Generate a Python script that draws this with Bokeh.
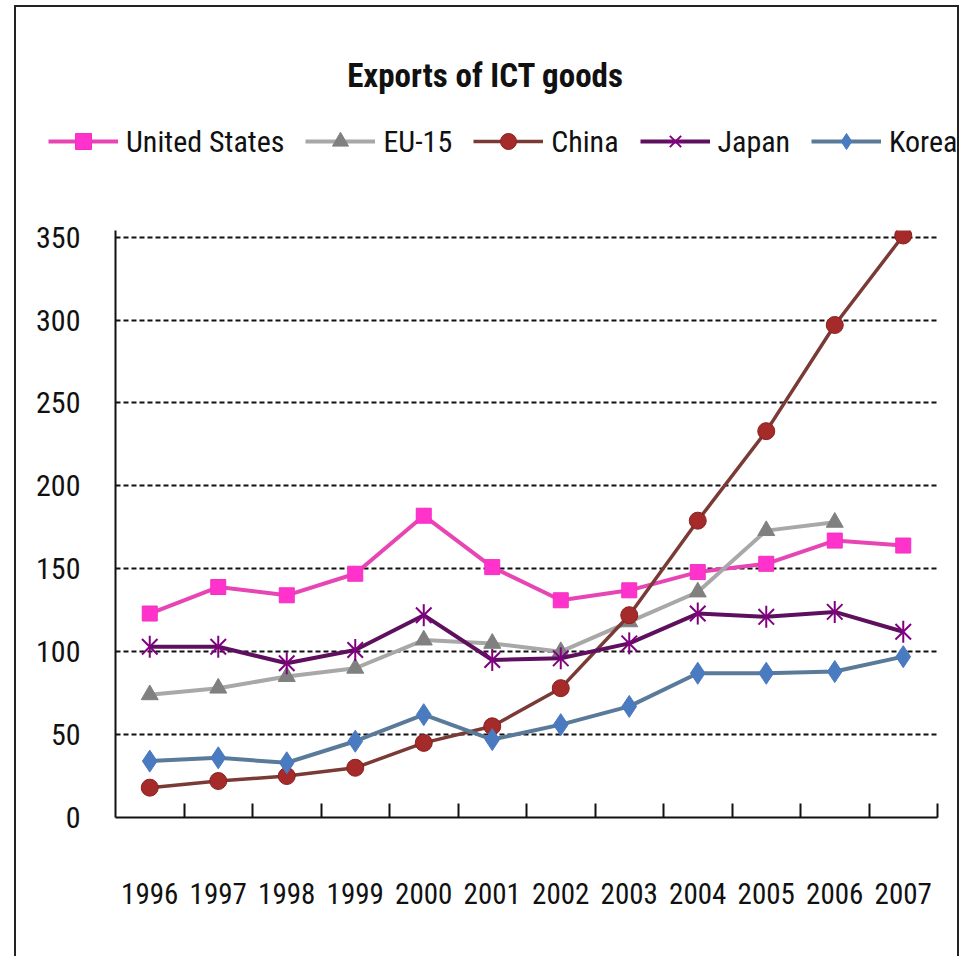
import math
from bokeh.plotting import figure
from bokeh.models import Range1d, FixedTicker, Legend, LegendItem, Label
from bokeh.embed import file_html
from bokeh.resources import INLINE

# ---- data ----
years = [1996, 1997, 1998, 1999, 2000, 2001, 2002, 2003, 2004, 2005, 2006, 2007]
us = [123, 139, 134, 147, 182, 151, 131, 137, 148, 153, 167, 164]
eu15_years = [1996, 1997, 1998, 1999, 2000, 2001, 2002, 2003, 2004, 2005, 2006]
eu15 = [74, 78, 85, 90, 107, 105, 100, 118, 136, 173, 178]
china = [18, 22, 25, 30, 45, 55, 78, 122, 179, 233, 297, 351]
japan = [103, 103, 93, 101, 122, 95, 96, 105, 123, 121, 124, 112]
korea = [34, 36, 33, 46, 62, 47, 56, 67, 87, 87, 88, 97]
series_names = ["United States", "EU-15", "China", "Japan", "Korea"]
y_ticks = [0, 50, 100, 150, 200, 250, 300, 350]
title_text = "Exports of ICT goods"

FONT = "Roboto Condensed, DejaVu Sans Condensed, sans-serif"
BORDER = "2px solid #222"

styles = [
    dict(line_color="#E845B4", line_width=4, marker="square", size=15, fill_color="#FF33CC", mline="#F030C0", mlw=1),
    dict(line_color="#A8A8A8", line_width=4, marker="triangle", size=17, fill_color="#808080", mline="#808080", mlw=1),
    dict(line_color="#7A3A36", line_width=3.5, marker="circle", size=17, fill_color="#A52A2A", mline="#8B2020", mlw=1),
    dict(line_color="#5E105E", line_width=4, marker="x", size=22, fill_color=None, mline="#800080", mlw=2),
    dict(line_color="#5A7A9A", line_width=4, marker="diamond", size=22, fill_color="#4A7AC0", mline="#4A7AC0", mlw=1),
]
data = [(years, us), (eu15_years, eu15), (years, china), (years, japan), (years, korea)]


def draw_series(fig, xs, ys, st):
    rs = [fig.line(xs, ys, line_color=st["line_color"], line_width=st["line_width"])]
    rs.append(fig.scatter(xs, ys, marker=st["marker"], size=st["size"],
                          fill_color=st["fill_color"], line_color=st["mline"],
                          line_width=st["mlw"]))
    if st["marker"] == "x":  # vertical bar completes the Excel-style star
        rs.append(fig.scatter(xs, ys, marker="dash", angle=math.pi / 2, size=st["size"],
                              line_color=st["mline"], line_width=st["mlw"]))
    return rs


# ---------------- header (title + legend) ----------------
h = figure(width=945, height=200, x_range=Range1d(0, 1), y_range=Range1d(0, 1),
           output_backend="svg", toolbar_location=None,
           x_axis_location=None, y_axis_location=None,
           min_border=0, min_border_left=0, min_border_right=0,
           min_border_top=0, min_border_bottom=0)
h.outline_line_color = None
h.xgrid.visible = False
h.ygrid.visible = False
h.margin = (5, 0, 0, 14)
h.styles = {"border-top": BORDER, "border-left": BORDER, "border-right": BORDER}

items = []
for name, (xs, ys), st in zip(series_names, data, styles):
    # same series, outside the header's view: only their legend glyphs show
    items.append(LegendItem(label=name, renderers=draw_series(h, xs, ys, st)))
legend = Legend(items=items, orientation="horizontal", location=(32, 46),
                padding=0, margin=0, spacing=21, glyph_width=70, glyph_height=40,
                label_standoff=8, label_text_font=FONT, label_text_font_size="30px",
                label_text_color="#111", border_line_color=None, background_fill_alpha=0)
h.add_layout(legend)
h.add_layout(Label(x=469, y=132, x_units="screen", y_units="screen", text=title_text,
                   text_align="center", text_baseline="alphabetic", text_font=FONT,
                   text_font_style="bold", text_font_size="33px", text_color="#111"))

# ---------------- main plot ----------------
p = figure(width=945, height=751,
           x_range=Range1d(years[0] - 0.5, years[-1] + 0.5),
           y_range=Range1d(0, 354),
           output_backend="svg", toolbar_location=None,
           min_border_left=99, min_border_right=24,
           min_border_top=25, min_border_bottom=139)
p.outline_line_color = None
p.margin = (0, 0, 0, 14)
p.styles = {"border-left": BORDER, "border-right": BORDER}

xa = p.xaxis[0]
xa.ticker = FixedTicker(ticks=years, minor_ticks=[y + 0.5 for y in years])
xa.major_tick_in = 0
xa.major_tick_out = 0
xa.minor_tick_in = 14
xa.minor_tick_out = 0
xa.minor_tick_line_width = 2
xa.minor_tick_line_color = "#111"
xa.axis_line_width = 2
xa.axis_line_color = "#111"
xa.major_label_standoff = 65
xa.major_label_text_font = FONT
xa.major_label_text_font_size = "29px"
xa.major_label_text_color = "#111"

ya = p.yaxis[0]
ya.ticker = FixedTicker(ticks=y_ticks)
ya.major_tick_in = 0
ya.major_tick_out = 0
ya.minor_tick_line_color = None
ya.axis_line_width = 2
ya.axis_line_color = "#111"
ya.major_label_standoff = 35
ya.major_label_text_font = FONT
ya.major_label_text_font_size = "30px"
ya.major_label_text_color = "#111"

p.xgrid.visible = False
p.ygrid.ticker = FixedTicker(ticks=y_ticks[1:])
p.ygrid.grid_line_color = "#111"
p.ygrid.grid_line_dash = "5 3"
p.ygrid.grid_line_width = 2

for (xs, ys), st in zip(data, styles):
    draw_series(p, xs, ys, st)

open("out.html", "w").write(file_html([h, p], INLINE))
